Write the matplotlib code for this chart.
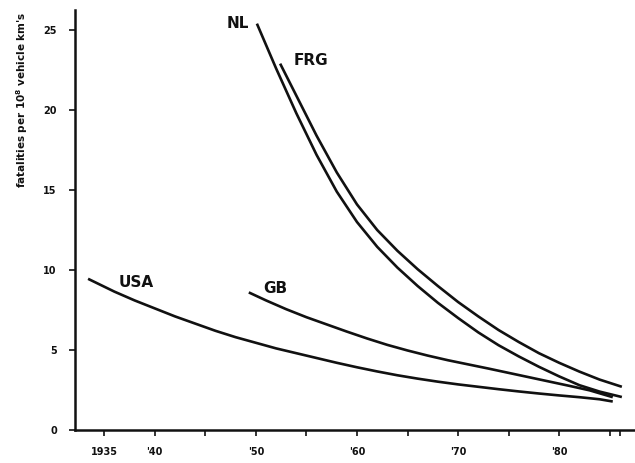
import matplotlib.pyplot as plt

plt.rcParams['font.family'] = ['DejaVu Sans']
plt.rcParams['font.weight'] = 'bold'

# values (fatalities per 10^8 vehicle km)
usa_anos = [1933.4, 1936, 1938, 1940, 1942, 1944, 1946, 1948, 1950, 1952, 1954, 1956, 1958, 1960,
            1962, 1964, 1966, 1968, 1970, 1972, 1974, 1976, 1978, 1980, 1982, 1984, 1985.3]
usa_vals = [9.45, 8.65, 8.1, 7.6, 7.1, 6.65, 6.2, 5.8, 5.45, 5.1, 4.8, 4.5, 4.2, 3.92,
            3.66, 3.42, 3.21, 3.02, 2.85, 2.7, 2.55, 2.41, 2.28, 2.16, 2.05, 1.92, 1.78]

gb_anos = [1949.3, 1951, 1953, 1955, 1957, 1959, 1961, 1963, 1965, 1967, 1969, 1971, 1973, 1975,
           1977, 1979, 1981, 1983, 1985.3]
gb_vals = [8.6, 8.1, 7.55, 7.05, 6.6, 6.15, 5.72, 5.32, 4.97, 4.65, 4.36, 4.1, 3.84, 3.57,
           3.3, 3.03, 2.76, 2.48, 2.05]

nl_anos = [1950.1, 1952, 1954, 1956, 1958, 1960, 1962, 1964, 1966, 1968, 1970, 1972, 1974, 1976,
           1978, 1980, 1982, 1984, 1986.2]
nl_vals = [25.4, 22.6, 19.8, 17.2, 14.9, 13.0, 11.45, 10.15, 9.0, 7.95, 7.0, 6.1, 5.3, 4.6,
           3.95, 3.35, 2.8, 2.4, 2.06]

frg_anos = [1952.4, 1954, 1956, 1958, 1960, 1962, 1964, 1966, 1968, 1970, 1972, 1974, 1976,
            1978, 1980, 1982, 1984, 1986.2]
frg_vals = [22.9, 20.9, 18.4, 16.1, 14.1, 12.5, 11.2, 10.05, 9.0, 8.0, 7.1, 6.25, 5.5,
            4.8, 4.2, 3.65, 3.15, 2.7]

marcas_x = [1935, 1940, 1945, 1950, 1955, 1960, 1965, 1970, 1975, 1980, 1985, 1986]
rotulos_x = ["1935", "'40", "", "'50", "", "'60", "", "'70", "", "'80", "", ""]
marcas_y = [0, 5, 10, 15, 20, 25]

titulo_y = "fatalities per 10$^\\mathbf{8}$ vehicle km's"

fig = plt.figure(figsize=(6.35, 4.63), dpi=100)
ax = fig.add_axes([0.118, 0.0713, 0.882, 0.907])

cor = "#111111"
for anos, vals in [(usa_anos, usa_vals), (gb_anos, gb_vals), (nl_anos, nl_vals), (frg_anos, frg_vals)]:
    ax.plot(anos, vals, color=cor, linewidth=1.9, solid_capstyle='butt', solid_joinstyle='round')

ax.text(1948.2, 25.4, "NL", fontsize=11, fontweight='bold', ha='center', va='center', color=cor)
ax.text(1955.4, 23.1, "FRG", fontsize=11, fontweight='bold', ha='center', va='center', color=cor)
ax.text(1938.2, 9.19, "USA", fontsize=11, fontweight='bold', ha='center', va='center', color=cor)
ax.text(1951.9, 8.875, "GB", fontsize=11, fontweight='bold', ha='center', va='center', color=cor)

ax.set_xlim(1932.1, 1987.5)
ax.set_ylim(0, 26.25)
ax.set_xticks(marcas_x)
ax.set_xticklabels(rotulos_x, fontsize=7, fontweight='bold')
ax.set_yticks(marcas_y)
ax.set_yticklabels([str(v) for v in marcas_y], fontsize=7, fontweight='bold')
ax.tick_params(axis='x', direction='out', length=4, width=1.2, pad=8, colors=cor)
ax.tick_params(axis='y', direction='out', length=4, width=1.2, pad=9, colors=cor)

for lado in ['top', 'right']:
    ax.spines[lado].set_visible(False)
for lado in ['left', 'bottom']:
    ax.spines[lado].set_linewidth(1.8)
    ax.spines[lado].set_color(cor)

fig.text(0.035, 0.975, titulo_y, rotation=90, ha='center', va='top', fontsize=7.5, fontweight='bold', color=cor)

fig.savefig("out.png", dpi=100)
